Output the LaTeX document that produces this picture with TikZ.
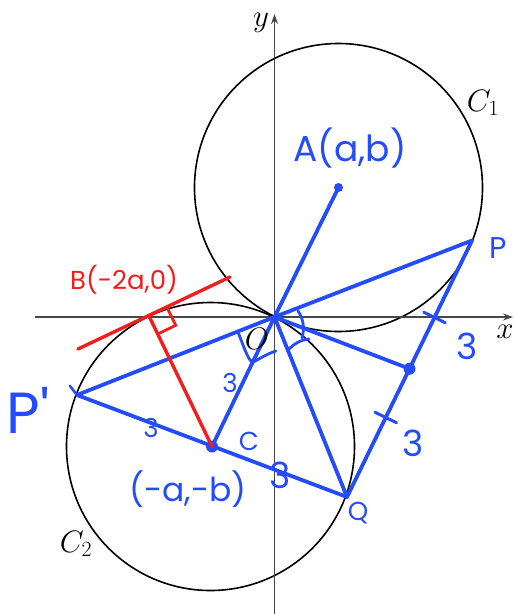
\RequirePackage{fix-cm}
\documentclass[tikz,border=0pt]{standalone}
\usepackage{fontspec}
\newfontfamily\hand{Poppins}
\usetikzlibrary{calc,arrows.meta}
\definecolor{pen}{RGB}{36,76,250}
\definecolor{redpen}{RGB}{240,30,30}
\definecolor{axisgray}{RGB}{70,70,70}
\begin{document}
\begin{tikzpicture}[x=1pt,y=-1pt,
  axis/.style={draw=axisgray, line width=1.1pt, -{Stealth[length=10pt,width=7pt]}},
  circ/.style={draw=black, line width=1.6pt},
  bl/.style={draw=pen, line width=3.8pt, line cap=round, line join=round},
  rd/.style={draw=redpen, line width=3.4pt, line cap=round, line join=round},
  lab/.style={font=\fontsize{31}{31}\selectfont, inner sep=0pt},
  hw/.style={text=pen, font=\hand\fontsize{#1}{#1}\selectfont, inner sep=0pt},
  hwr/.style={text=redpen, font=\hand\fontsize{#1}{#1}\selectfont, inner sep=0pt}
]
\useasboundingbox (0,0) rectangle (515,614);
% points
\coordinate (O) at (274.5,317);
\coordinate (A) at (338.5,187.5);
\coordinate (C) at (210.5,446.5);
\coordinate (Cd) at (212,446.5);
\coordinate (P) at (472,240.5);
\coordinate (Q) at (347,497);
\coordinate (M) at ($(P)!0.5!(Q)$);
\coordinate (Pp) at (77,395);
\coordinate (B) at (149,316);
\coordinate (T1) at (78,349);
\coordinate (T2) at (230,277);
% circles
\draw[circ] (A) circle (144);
\draw[circ] (C) circle (144);
% axes
\coordinate (xa) at (35,317);
\coordinate (xb) at (513,317);
\coordinate (ya) at (274.5,614);
\coordinate (yb) at (274.5,14);
\draw[axis] (xa) -- (xb);
\draw[axis] (ya) -- (yb);
% blue construction
\draw[bl] (O) -- (A);
\draw[bl] (O) -- (P);
\draw[bl] (P) -- (Q);
\draw[bl] (O) -- (M);
\draw[bl] (O) -- (Q);
\draw[bl] (O) -- (Pp);
\draw[bl] (Pp) -- (Q);
\draw[bl] (O) -- (Cd);
\draw[bl, line width=2.6pt] (70,386) -- (Pp);
% ticks on PQ
\coordinate (t1) at ($(P)!0.30!(Q)$);
\coordinate (t2) at ($(P)!0.69!(Q)$);
\draw[bl, line width=3pt] ($(t1)!12pt!90:(Q)$) -- ($(t1)!12pt!-90:(Q)$);
\draw[bl, line width=3pt] ($(t2)!12pt!90:(Q)$) -- ($(t2)!12pt!-90:(Q)$);
% angle marks
\draw[bl, line width=2.8pt] (238,332) .. controls (245,350) and (249,362) .. (253,362) .. controls (258,360) and (266,354) .. (276,351);
\draw[bl, line width=2.8pt] (298,311) .. controls (303,318) and (305,328) .. (302,338);
\draw[bl, line width=2.8pt] (289,349) .. controls (294,344) and (300,340) .. (309,339);
% dots
\fill[pen] (A) circle (4.5);
\fill[pen] (M) circle (6);
\fill[pen] (Cd) circle (6);
% red construction
\draw[rd] (T1) -- (T2);
\draw[rd] (B) -- (Cd);
\coordinate (r1) at ($(B)!20pt!(T2)$);
\coordinate (r3) at ($(B)!20pt!(Cd)$);
\coordinate (r2) at ($(r1)+(r3)-(B)$);
\draw[rd, line width=2.8pt, line cap=butt, line join=miter] (r1) -- (r2) -- (r3);
% black labels
\node[lab] (xl) at (505,332) {$x$};
\node[lab] (yl) at (261,23) {$y$};
\node[lab] (Ol) at (257,339) {$O$};
\node[lab] (C1l) at (483,103) {$C_1$};
\node[lab] (C2l) at (76,544) {$C_2$};
% handwritten labels
\node[hw=36] (Al) at (350,148) {A(a,b)};
\node[hw=30] (Pl) at (498,248) {P};
\node[hw=58] (Ppl) at (28,410) {P'};
\node[hw=36] (n3a) at (467,346) {3};
\node[hw=36] (n3b) at (413,443) {3};
\node[hw=36] (n3c) at (280,475) {3};
\node[hw=26] (n3d) at (230,383) {3};
\node[hw=26] (n3e) at (151,428) {3};
\node[hw=26] (Cl) at (249,441) {C};
\node[hw=33] (ABl) at (188,489) {(-a,-b)};
\node[hw=26] (Ql) at (358,513) {Q};
\node[hwr=26] (Bl) at (124,280) {B(-2a,0)};
\end{tikzpicture}
\end{document}
